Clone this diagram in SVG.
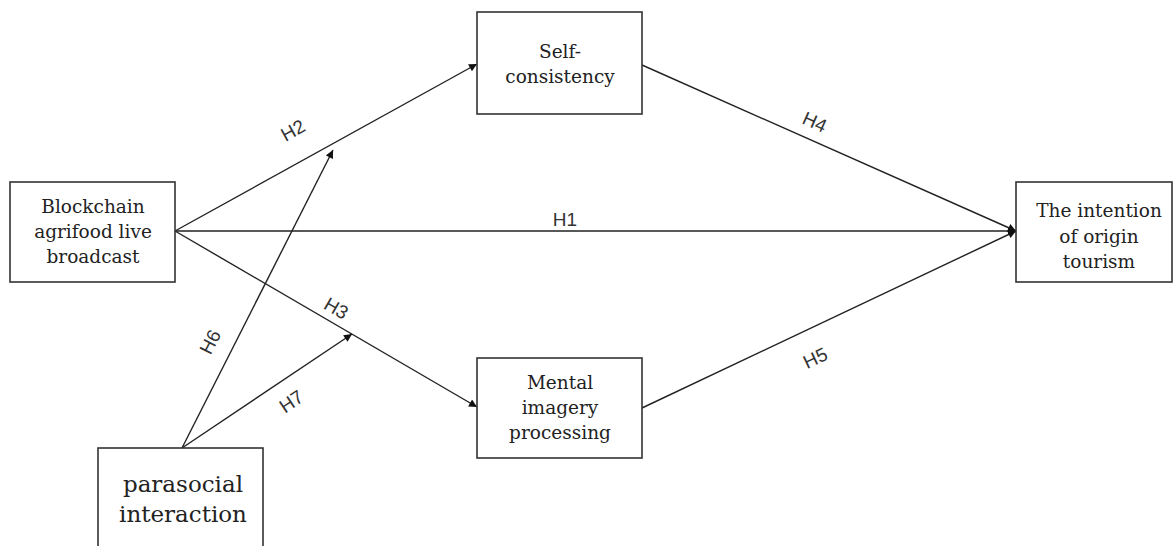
<svg xmlns="http://www.w3.org/2000/svg" width="1173" height="546" viewBox="0 0 1173 546">
<defs>
<style>
.box{fill:#fff;stroke:#333;stroke-width:1.6}
.t{font-family:"DejaVu Serif","Liberation Serif",serif;font-size:18.5px;fill:#222;text-anchor:middle}
.tl{font-family:"DejaVu Serif","Liberation Serif",serif;font-size:23px;fill:#222;text-anchor:middle}
.lb{font-family:"Liberation Sans",Arial,sans-serif;font-size:19px;fill:#333;text-anchor:middle}
.c{stroke:#222;stroke-width:1.4;fill:none}
</style>
<marker id="ah" viewBox="0 0 10 10" refX="10" refY="5" markerWidth="10" markerHeight="8" markerUnits="userSpaceOnUse" orient="auto">
<path d="M0,0 L10,5 L0,10 Z" fill="#111"/>
</marker>
</defs>
<rect width="1173" height="546" fill="#fff"/>
<g id="connectors">
<line class="c" x1="175" y1="231" x2="1016" y2="231" marker-end="url(#ah)"/>
<line class="c" x1="175" y1="231" x2="477" y2="64" marker-end="url(#ah)"/>
<line class="c" x1="175" y1="231" x2="477" y2="407" marker-end="url(#ah)"/>
<line class="c" x1="642" y1="65" x2="1016" y2="231" marker-end="url(#ah)"/>
<line class="c" x1="642" y1="408" x2="1016" y2="231" marker-end="url(#ah)"/>
<line class="c" x1="182" y1="448" x2="333" y2="150" marker-end="url(#ah)"/>
<line class="c" x1="182" y1="448" x2="352" y2="334" marker-end="url(#ah)"/>
<text class="lb" transform="translate(296,136) rotate(-29)">H2</text>
<text class="lb" x="565" y="226">H1</text>
<text class="lb" transform="translate(333,314) rotate(30)">H3</text>
<text class="lb" transform="translate(812,128) rotate(24)">H4</text>
<text class="lb" transform="translate(818,364) rotate(-25)">H5</text>
<text class="lb" transform="translate(216,345) rotate(-63)">H6</text>
<text class="lb" transform="translate(295,407) rotate(-34)">H7</text>
</g>
<g id="blockchain">
<rect class="box" x="10" y="182" width="165" height="100"/>
<text class="t" x="93" y="213">Blockchain</text>
<text class="t" x="93" y="238">agrifood live</text>
<text class="t" x="93" y="263">broadcast</text>
</g>
<g id="self-consistency">
<rect class="box" x="477" y="12" width="165" height="102"/>
<text class="t" x="560" y="58">Self-</text>
<text class="t" x="560" y="83">consistency</text>
</g>
<g id="mental">
<rect class="box" x="477" y="358" width="165" height="100"/>
<text class="t" x="560" y="389">Mental</text>
<text class="t" x="560" y="414">imagery</text>
<text class="t" x="560" y="439">processing</text>
</g>
<g id="intention">
<rect class="box" x="1016" y="182" width="156" height="100"/>
<text class="t" x="1099" y="217">The intention</text>
<text class="t" x="1099" y="243">of origin</text>
<text class="t" x="1099" y="268">tourism</text>
</g>
<g id="parasocial">
<rect class="box" x="98" y="448" width="165" height="110"/>
<text class="tl" x="183" y="492">parasocial</text>
<text class="tl" x="183" y="522">interaction</text>
</g>
</svg>
